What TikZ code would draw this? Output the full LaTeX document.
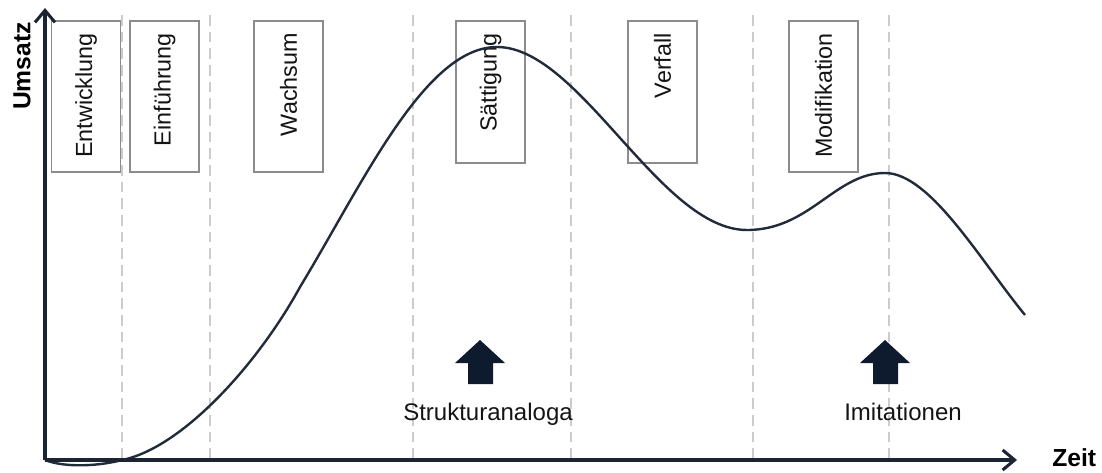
\documentclass[tikz,border=0pt]{standalone}
\usepackage{fontspec}
\setmainfont{Liberation Sans}
\usetikzlibrary{arrows.meta}
\definecolor{axiscol}{HTML}{1B2433}
\definecolor{curvecol}{HTML}{222B3A}
\definecolor{boxcol}{HTML}{8C8C8C}
\definecolor{guidecol}{HTML}{CCCCCC}
\definecolor{arrowcol}{HTML}{0E1A2D}
\definecolor{textcol}{HTML}{141414}
\begin{document}
\begin{tikzpicture}[x=0.75pt,y=-0.75pt,
  axis/.style={draw=axiscol, line width=2.3pt, -{Straight Barb[length=9pt,width=15pt]}},
  guide/.style={draw=guidecol, line width=1.1pt, dash pattern=on 8pt off 4.5pt},
  phase/.style={draw=boxcol, line width=1.1pt, fill=white, inner sep=0pt, minimum width=51.75pt},
  tallphase/.style={phase, minimum height=113.25pt},
  shortphase/.style={phase, minimum height=106.5pt},
  phaselabel/.style={rotate=90, anchor=east, inner sep=0pt, text=textcol, font=\fontsize{17.5}{20}\selectfont},
  curve/.style={draw=curvecol, line width=1.8pt},
  note/.style={anchor=base, inner sep=0pt, text=textcol, font=\fontsize{18}{21}\selectfont},
  axislabel/.style={inner sep=0pt, text=black, font=\fontsize{18.5}{22}\selectfont\bfseries},
  upblock/.pic={\fill[arrowcol] (0,0) -- (25,23) -- (13,23) -- (13,44) -- (-12,44) -- (-12,23) -- (-25,23) -- cycle;}
]
\useasboundingbox (0,0) rectangle (1102,472);

% phase separators
\foreach \gx in {122,210,413,571,753,889}
  \draw[guide] (\gx,15) -- (\gx,460);

% phase boxes
\node[tallphase]  (b1) at (86,96.5)   {};
\node[tallphase]  (b2) at (164.5,96.5) {};
\node[tallphase]  (b3) at (288.5,96.5) {};
\node[shortphase] (b4) at (490.5,92)   {};
\node[shortphase] (b5) at (662.5,92)   {};
\node[tallphase]  (b6) at (823.5,96.5) {};

\node[phaselabel] (l1) at (86,33)    {Entwicklung};
\node[phaselabel] (l2) at (164.5,33) {Einführung};
\node[phaselabel] (l3) at (288.5,33) {Wachsum};
\node[phaselabel] (l4) at (490.5,33) {Sättigung};
\node[phaselabel] (l5) at (662.5,33) {Verfall};
\node[phaselabel] (l6) at (823.5,33) {Modifikation};

% axes
\coordinate (O) at (45,460);
\coordinate (ytip) at (45,8);
\coordinate (xtip) at (1017,460);

% sales curve
\draw[curve] (O) .. controls (65,468) and (100,466) .. (122,460)
  .. controls (182,448) and (258,364) .. (300,287)
  .. controls (363,183) and (425,47) .. (497,47)
  .. controls (580,47) and (660,230) .. (747,230)
  .. controls (810,230) and (835,173) .. (885,173)
  .. controls (930,173) and (980,260) .. (1025,315);

\draw[axis] (O) -- (ytip);
\draw[axis] (O) -- (xtip);

\node[axislabel, rotate=90] (ylab) at (22,66) {Umsatz};
\node[axislabel, anchor=base west] (xlab) at (1052,466) {Zeit};

% block arrows and notes
\pic (arrS) at (480,340) {upblock};
\pic (arrI) at (885,340) {upblock};
\node[note] (struk) at (488,420) {Strukturanaloga};
\node[note] (imit)  at (903,420) {Imitationen};
\end{tikzpicture}
\end{document}
